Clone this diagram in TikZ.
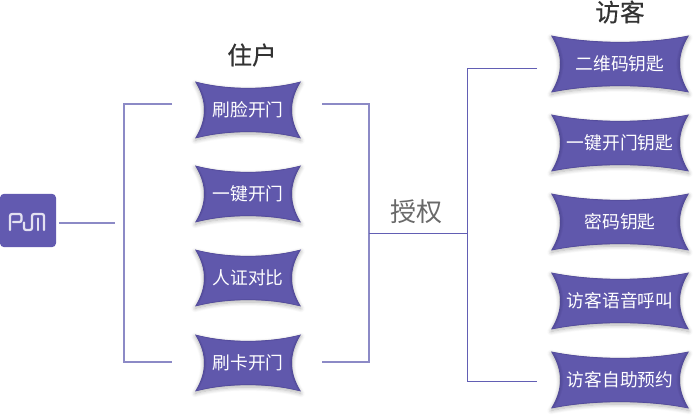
\documentclass[tikz,border=0pt]{standalone}
\usepackage{fontspec}
\setmainfont{Noto Sans CJK SC}
\newfontfamily\headfont[FakeBold=0.35]{Noto Sans CJK SC}
\usetikzlibrary{shadows.blur}
\definecolor{keyblue}{RGB}{96,88,172}
\definecolor{keydark}{RGB}{82,74,152}
\definecolor{logoblue}{RGB}{98,90,176}
\definecolor{linkblue}{RGB}{98,94,180}
\definecolor{linkpale}{RGB}{140,138,198}
\definecolor{titlegray}{RGB}{51,51,51}
\definecolor{grantgray}{RGB}{105,105,105}
\tikzset{
  link/.style={draw=linkblue, line width=0.75pt},
  linksoft/.style={draw=linkpale, line width=0.9pt},
  keytext/.style={text=white, font=\fontsize{13.3}{15}\selectfont, inner sep=0pt},
  headtext/.style={text=titlegray, font=\headfont\fontsize{18.5}{21}\selectfont, inner sep=0pt},
  logostroke/.style={draw=white!82!logoblue, line width=1.7pt, line cap=round, rounded corners=1.6pt}
}
% outline of a key card, half width #1
\newcommand{\keyoutline}[1]{
  (-#1,28.5) .. controls (-#1*0.4,20) and (#1*0.4,20) .. (#1,28.5)
  .. controls (#1-12,9) and (#1-12,-9) .. (#1,-28.5)
  .. controls (#1*0.4,-20) and (-#1*0.4,-20) .. (-#1,-28.5)
  .. controls (-#1+12,-9) and (-#1+12,9) .. cycle
}
% #1 name, #2 centre, #3 half width, #4 text
\newcommand{\keycard}[4]{
  \begin{scope}[shift={#2}]
    \fill[keydark, blur shadow={shadow blur steps=8, shadow blur radius=3pt, shadow xshift=0pt, shadow yshift=-1.5pt, shadow opacity=30}] \keyoutline{#3};
    \foreach \s/\m in {0.985/25,0.97/50,0.955/75,0.94/100}{
      \fill[keyblue!\m!keydark, scale=\s] \keyoutline{#3};
    }
    \node[keytext] (#1) at (0,0) {#4};
  \end{scope}
}
\begin{document}
\begin{tikzpicture}[x=0.75pt, y=0.75pt]
\useasboundingbox (0,0) rectangle (695,417);

% ---- logo ----
\node[fill=logoblue, rounded corners=3pt, minimum width=42pt, minimum height=40pt, inner sep=0pt] (logo) at (28,196.5) {};
\begin{scope}[shift={(logo.center)}]
  \draw[logostroke] (-18,-9.5) -- (-18,6.5) -- (-6.5,6.5) -- (-6.5,-1.5) -- (-15,-1.5);
  \draw[logostroke] (-4,-2) -- (-4,-9.5) -- (4,-9.5) -- (4,6.5) -- (16,6.5) -- (16,-9.5);
  \draw[logostroke] (10,2) -- (10,-9.5);
\end{scope}

% ---- residents ----
\keycard{face}{(248,307)}{53}{刷脸开门}
\keycard{onekey}{(248,223)}{53}{一键开门}
\keycard{idcheck}{(248,139)}{53}{人证对比}
\keycard{card}{(248,54)}{53}{刷卡开门}
\node[headtext] (resident) at (252,362) {住户};

% ---- visitors ----
\keycard{qrkey}{(620,353)}{69}{二维码钥匙}
\keycard{doorkey}{(620,274)}{69}{一键开门钥匙}
\keycard{pwkey}{(620,195)}{69}{密码钥匙}
\keycard{voicekey}{(620,116)}{69}{访客语音呼叫}
\keycard{bookkey}{(620,37)}{69}{访客自助预约}
\node[headtext] (visitor) at (620,405) {访客};

\node[text=grantgray, font=\fontsize{19.5}{22}\selectfont, inner sep=0pt] (grant) at (416,205) {授权};

% ---- connectors ----
\path (logo) ++(31,-2.5) coordinate (logostart) ++(56,0) coordinate (logoend);
\path (face) ++(-76,6) coordinate (faceleft) ++(150,0) coordinate (faceright);
\path (card) ++(-76,1) coordinate (cardleft) ++(150,0) coordinate (cardright);
\path (qrkey) ++(-83,-5) coordinate (qrleft);
\path (bookkey) ++(-83,-2) coordinate (bookleft);
\coordinate (grantleft) at (369,183);
\coordinate (grantright) at (467,183);
\draw[linksoft] (logostart) -- (logoend);
\draw[linksoft] (faceleft) -- ++(-48,0) |- (cardleft);
\draw[linksoft] (faceright) -- ++(47,0) |- (cardright);
\draw[link] (grantleft) -- (grantright);
\draw[link] (qrleft) -- ++(-70,0) |- (bookleft);
\end{tikzpicture}
\end{document}
